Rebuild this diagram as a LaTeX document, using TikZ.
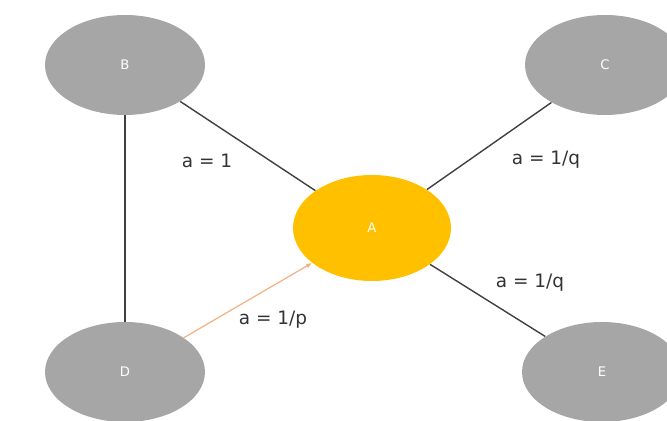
\documentclass[tikz,border=0pt]{standalone}
\usepackage{fontspec}
\setmainfont{DejaVu Sans}
\usetikzlibrary{arrows.meta,positioning,shapes.geometric}
\definecolor{greyN}{HTML}{A6A6A6}
\definecolor{goldN}{HTML}{FFC000}
\definecolor{peachL}{HTML}{F4B183}
\definecolor{edgeL}{HTML}{404040}
\tikzset{
  vtx/.style={ellipse, fill=#1, draw=none, minimum width=3.2cm, minimum height=2cm,
              font=\fontsize{7.5}{9}\selectfont, text=white},
  edge/.style={line width=0.8pt, draw=edgeL},
  lbl/.style={font=\fontsize{10.5}{12}\selectfont, text=black!80},
}
\begin{document}
\begin{tikzpicture}
\useasboundingbox (0,0) rectangle (13.34,8.4);
\node[vtx=greyN] (B) at (2.5,7.1) {B};
\node[vtx=greyN] (C) at (12.1,7.1) {C};
\node[vtx=goldN, minimum width=3.16cm, minimum height=2.12cm] (A) at (7.44,3.84) {A};
\node[vtx=greyN] (D) at (2.5,0.96) {D};
\node[vtx=greyN] (E) at (12.04,0.96) {E};
\draw[edge] (B) -- (D);
\draw[edge] (B) -- (A);
\draw[edge] (C) -- (A);
\draw[edge] (E) -- (A);
\draw[-{Latex[length=1.2mm,width=1mm]}, line width=0.7pt, draw=peachL] (D) -- (A);
\node[lbl] (l1) at (4.14,5.18) {a = 1};
\node[lbl] (l2) at (10.92,5.2) {a = 1/q};
\node[lbl] (l3) at (10.6,2.74) {a = 1/q};
\node[lbl] (l4) at (5.46,2.0) {a = 1/p};
\end{tikzpicture}
\end{document}
